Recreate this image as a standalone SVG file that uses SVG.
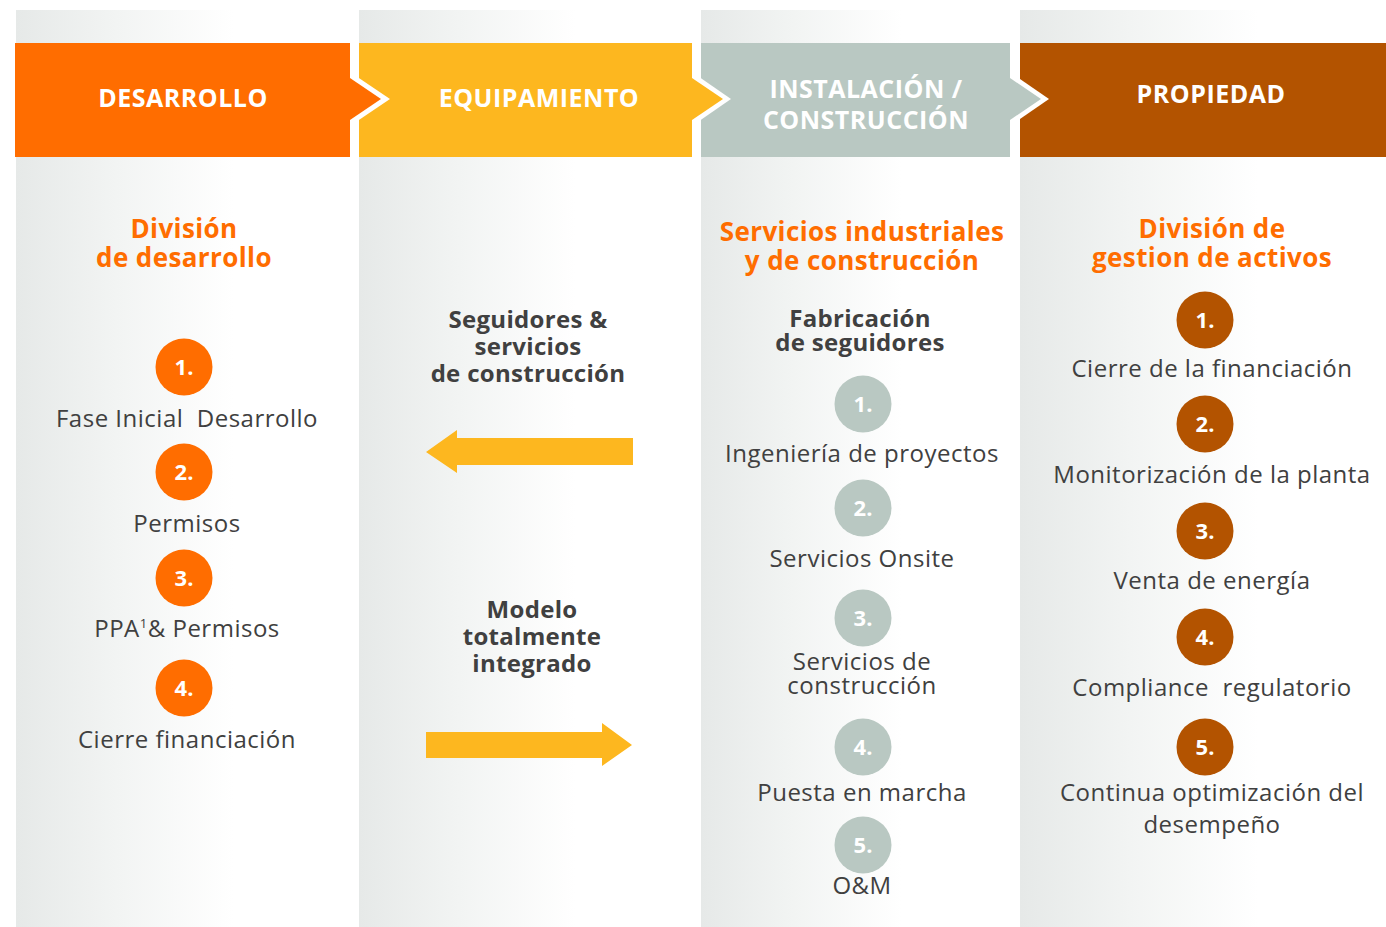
<svg xmlns="http://www.w3.org/2000/svg" width="1386" height="927" viewBox="0 0 1386 927">
<defs>
<linearGradient id="colbg" x1="0" y1="0" x2="1" y2="0">
<stop offset="0" stop-color="#e6e9e8"/>
<stop offset="0.3" stop-color="#f2f4f3"/>
<stop offset="0.65" stop-color="#ffffff"/>
<stop offset="1" stop-color="#ffffff"/>
</linearGradient>
</defs>
<style>
.hd{font-family:"Open Sans","Liberation Sans",sans-serif;font-weight:700;font-size:25px;letter-spacing:0.5px;fill:#ffffff;text-anchor:middle}
.ttl{font-family:"Open Sans","Liberation Sans",sans-serif;font-weight:700;font-size:26px;letter-spacing:0.4px;fill:#ff6d00;text-anchor:middle}
.sub{font-family:"Open Sans","Liberation Sans",sans-serif;font-weight:700;font-size:24px;letter-spacing:0.3px;fill:#404040;text-anchor:middle}
.lbl{font-family:"Open Sans","Liberation Sans",sans-serif;font-size:24px;letter-spacing:0.5px;fill:#404040;text-anchor:middle}
.num{font-family:"Open Sans","Liberation Sans",sans-serif;font-weight:700;font-size:22px;fill:#ffffff;text-anchor:middle}
.c1{fill:#ff6d00}.c3{fill:#b9c8c2}.c4{fill:#b35300}
.arr{fill:#fdb71f}
</style>
<rect width="1386" height="927" fill="#ffffff"/>
<g id="backgrounds">
<rect x="16" y="10" width="334" height="917" fill="url(#colbg)"/>
<rect x="359" y="10" width="333" height="917" fill="url(#colbg)"/>
<rect x="701" y="10" width="309" height="917" fill="url(#colbg)"/>
<rect x="1020" y="10" width="366" height="917" fill="url(#colbg)"/>
</g>
<g id="header-desarrollo">
<rect x="15" y="43" width="335" height="114" fill="#ff6d00"/>
</g>
<g id="header-equipamiento">
<rect x="359" y="43" width="333" height="114" fill="#fdb71f"/>
</g>
<g id="header-instalacion">
<rect x="701" y="43" width="309" height="114" fill="#b9c8c2"/>
</g>
<g id="header-propiedad">
<rect x="1020" y="43" width="366" height="114" fill="#b35300"/>
</g>
<g id="chevrons">
<polygon points="350,72 390,99 350,126" fill="#ffffff"/>
<polygon points="350,78 381,99 350,120" fill="#ff6d00"/>
<polygon points="692,72 731,99 692,126" fill="#ffffff"/>
<polygon points="692,78 723,99 692,120" fill="#fdb71f"/>
<polygon points="1010,72 1049,99 1010,126" fill="#ffffff"/>
<polygon points="1010,78 1041,99 1010,120" fill="#b9c8c2"/>
</g>
<g id="header-texts">
<text class="hd" x="183" y="107">DESARROLLO</text>
<text class="hd" x="539" y="107">EQUIPAMIENTO</text>
<text class="hd" x="866" y="98">INSTALACIÓN /</text>
<text class="hd" x="866" y="129">CONSTRUCCIÓN</text>
<text class="hd" x="1211" y="103">PROPIEDAD</text>
</g>
<g id="col-desarrollo">
<text class="ttl" x="184" y="238">División</text>
<text class="ttl" x="184" y="267">de desarrollo</text>
<circle class="c1" cx="184" cy="367" r="28.5"/><text class="num" x="184" y="375">1.</text>
<text class="lbl" x="187" y="427" xml:space="preserve">Fase Inicial  Desarrollo</text>
<circle class="c1" cx="184" cy="472" r="28.5"/><text class="num" x="184" y="480">2.</text>
<text class="lbl" x="187" y="532">Permisos</text>
<circle class="c1" cx="184" cy="578" r="28.5"/><text class="num" x="184" y="586">3.</text>
<text class="lbl" x="187" y="637">PPA<tspan font-size="13" dy="-9">1</tspan><tspan dy="9">&amp; Permisos</tspan></text>
<circle class="c1" cx="184" cy="688" r="28.5"/><text class="num" x="184" y="696">4.</text>
<text class="lbl" x="187" y="748">Cierre financiación</text>
</g>
<g id="col-equipamiento">
<text class="sub" x="528" y="328">Seguidores &amp;</text>
<text class="sub" x="528" y="355">servicios</text>
<text class="sub" x="528" y="382">de construcción</text>
<text class="sub" x="532" y="618">Modelo</text>
<text class="sub" x="532" y="645">totalmente</text>
<text class="sub" x="532" y="672">integrado</text>
</g>
<g id="connectors">
<polygon class="arr" points="633,438 457,438 457,430 426,452 457,473 457,465 633,465"/>
<polygon class="arr" points="426,732 602,732 602,723 632,745 602,766 602,758 426,758"/>
</g>
<g id="col-instalacion">
<text class="ttl" x="862" y="241">Servicios industriales</text>
<text class="ttl" x="862" y="270">y de construcción</text>
<text class="sub" x="860" y="327">Fabricación</text>
<text class="sub" x="860" y="351">de seguidores</text>
<circle class="c3" cx="863" cy="404" r="28.5"/><text class="num" x="863" y="412">1.</text>
<text class="lbl" x="862" y="462">Ingeniería de proyectos</text>
<circle class="c3" cx="863" cy="508" r="28.5"/><text class="num" x="863" y="516">2.</text>
<text class="lbl" x="862" y="567">Servicios Onsite</text>
<circle class="c3" cx="863" cy="618" r="28.5"/><text class="num" x="863" y="626">3.</text>
<text class="lbl" x="862" y="670">Servicios de</text>
<text class="lbl" x="862" y="694">construcción</text>
<circle class="c3" cx="863" cy="747" r="28.5"/><text class="num" x="863" y="755">4.</text>
<text class="lbl" x="862" y="801">Puesta en marcha</text>
<circle class="c3" cx="863" cy="845" r="28.5"/><text class="num" x="863" y="853">5.</text>
<text class="lbl" x="862" y="894">O&amp;M</text>
</g>
<g id="col-propiedad">
<text class="ttl" x="1212" y="238">División de</text>
<text class="ttl" x="1212" y="267">gestion de activos</text>
<circle class="c4" cx="1205" cy="320" r="28.5"/><text class="num" x="1205" y="328">1.</text>
<text class="lbl" x="1212" y="377">Cierre de la financiación</text>
<circle class="c4" cx="1205" cy="424" r="28.5"/><text class="num" x="1205" y="432">2.</text>
<text class="lbl" x="1212" y="483">Monitorización de la planta</text>
<circle class="c4" cx="1205" cy="531" r="28.5"/><text class="num" x="1205" y="539">3.</text>
<text class="lbl" x="1212" y="589">Venta de energía</text>
<circle class="c4" cx="1205" cy="637" r="28.5"/><text class="num" x="1205" y="645">4.</text>
<text class="lbl" x="1212" y="696" xml:space="preserve">Compliance  regulatorio</text>
<circle class="c4" cx="1205" cy="747" r="28.5"/><text class="num" x="1205" y="755">5.</text>
<text class="lbl" x="1212" y="801">Continua optimización del</text>
<text class="lbl" x="1212" y="833">desempeño</text>
</g>
</svg>
